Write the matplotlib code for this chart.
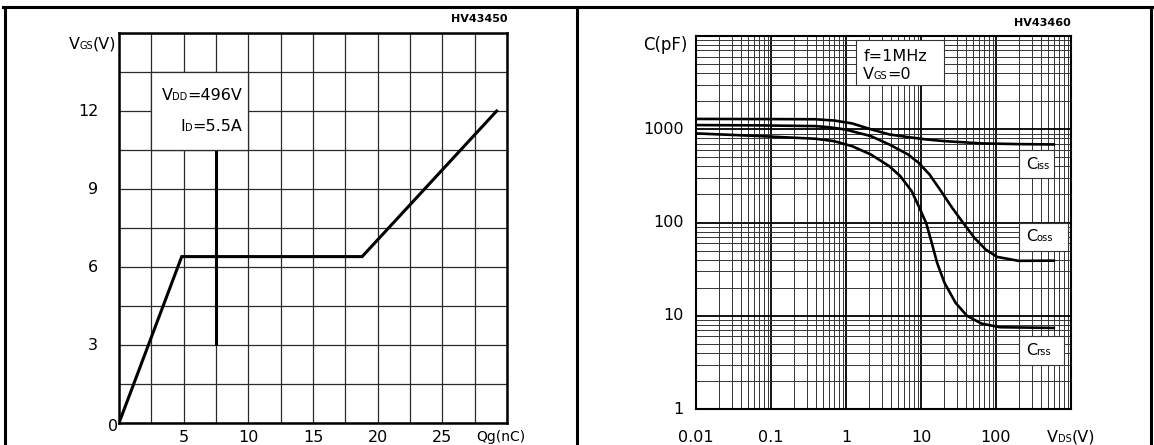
import matplotlib
matplotlib.use("Agg")
import matplotlib.pyplot as plt
from matplotlib.offsetbox import TextArea, HPacker, AnnotationBbox
from matplotlib.patches import Rectangle
from matplotlib.lines import Line2D
from matplotlib.ticker import MultipleLocator, LogLocator, NullFormatter

plt.rcParams['font.family'] = ['DejaVu Sans']

# ====== gate charge (left chart) ======
qg = [0, 4.85, 18.8, 29.2]
vgs = [0, 6.4, 6.4, 12.0]
qg_ticks = [5, 10, 15, 20, 25]
vgs_ticks = [3, 6, 9, 12]

# ====== capacitance vs VDS (right chart) ======
ciss_v = [0.01, 0.1, 0.39, 0.7, 1.2, 2.14, 3.77, 6.7, 11.7, 20.6, 64, 200, 590]
ciss = [1290, 1285, 1280, 1240, 1156, 1000, 880, 824, 778, 746, 705, 693, 687]
coss_v = [0.01, 0.071, 0.39, 0.6, 0.97, 2.14, 3.77, 6.7, 9.3, 13, 18.5, 26, 36.5, 51.5, 73, 103, 200, 590]
coss = [1109, 1100, 1081, 1050, 995, 845, 687, 537, 437, 327, 217, 144, 99, 68.4, 51.3, 42.8, 38.8, 39]
crss_v = [0.01, 0.071, 0.39, 0.69, 1.2, 2.14, 3.77, 5.3, 7.5, 9.3, 11.7, 13.9, 16.4, 20.6, 29, 41, 64, 113, 590]
crss = [902, 845, 791, 746, 659, 537, 402, 314, 217, 150, 99, 60.5, 36.9, 22.5, 13.7, 10.0, 8.24, 7.53, 7.4]
vds_ticks = [0.01, 0.1, 1, 10, 100]
c_ticks = [1, 10, 100, 1000]

FS = 11.5


def rich(ax, xy, parts, coords='data', align=(0.5, 0.5), size=FS, offset=(0, 0)):
    # text with small "subscript" letters sitting on the baseline
    areas = [TextArea(s, textprops=dict(fontsize=size * (0.62 if small else 1.0), color='black'))
             for s, small in parts]
    pack = HPacker(children=areas, align='baseline', pad=0, sep=-0.3)
    ab = AnnotationBbox(pack, xy, xycoords=coords, xybox=offset, boxcoords='offset points',
                        frameon=False, box_alignment=align, pad=0, annotation_clip=False, zorder=5)
    ax.add_artist(ab)


fig = plt.figure(figsize=(11.54, 4.45), dpi=100)

# outer frame of the datasheet page
for (x0, x1, y0, y1) in [(0.003, 0.998, 0.984, 0.984), (0.0045, 0.0045, 0.0, 0.984),
                         (0.5, 0.5, 0.0, 0.984), (0.9975, 0.9975, 0.0, 0.984)]:
    fig.add_artist(Line2D([x0, x1], [y0, y1], color='black', lw=2.2))

# ---------------- left chart ----------------
ax1 = fig.add_axes([119 / 1154, 1 - 423 / 445, 388 / 1154, 390 / 445])
ax1.set_xlim(0, 30)
ax1.set_ylim(0, 15)
ax1.xaxis.set_major_locator(MultipleLocator(2.5))
ax1.yaxis.set_major_locator(MultipleLocator(1.5))
ax1.grid(True, color='#2a2a2a', lw=0.9)
ax1.set_axisbelow(True)
ax1.tick_params(length=0, labelbottom=False, labelleft=False)
for s in ax1.spines.values():
    s.set_linewidth(1.8)

ax1.vlines(7.5, 3, 10.5, color='black', lw=2.2, zorder=1)
ax1.add_patch(Rectangle((2.5, 10.5), 7.5, 3, fc='white', ec='#2a2a2a', lw=0.9, zorder=1.5))
ax1.plot(qg, vgs, color='black', lw=2.2, zorder=3, solid_joinstyle='miter')

for t in vgs_ticks:
    ax1.text(-1.6, t, str(t), ha='right', va='center', fontsize=FS)
ax1.text(-0.45, -0.15, '0', ha='center', va='center', fontsize=FS)
for t in qg_ticks:
    ax1.text(t, -0.55, str(t), ha='center', va='center', fontsize=FS)
ax1.text(29.5, -0.55, 'Qg(nC)', ha='center', va='center', fontsize=FS - 1.5)

rich(ax1, (0, 1), [('V', False), ('GS', True), ('(V)', False)], coords='axes fraction',
     align=(1, 0.5), offset=(-2, -8))
rich(ax1, (9.5, 12.6), [('V', False), ('DD', True), ('=496V', False)], align=(1, 0.5))
rich(ax1, (9.5, 11.4), [('I', False), ('D', True), ('=5.5A', False)], align=(1, 0.5))
ax1.text(1, 1.022, 'HV43450', transform=ax1.transAxes, ha='right', va='bottom',
         fontsize=8, fontweight='bold')

# ---------------- right chart ----------------
ax2 = fig.add_axes([696 / 1154, 1 - 409 / 445, 375 / 1154, 373 / 445])
ax2.set_xscale('log')
ax2.set_yscale('log')
ax2.set_xlim(0.01, 1000)
ax2.set_ylim(1, 10000)
ax2.xaxis.set_minor_locator(LogLocator(base=10, subs=range(2, 10), numticks=20))
ax2.yaxis.set_minor_locator(LogLocator(base=10, subs=range(2, 10), numticks=20))
ax2.xaxis.set_minor_formatter(NullFormatter())
ax2.yaxis.set_minor_formatter(NullFormatter())
ax2.grid(True, which='major', color='black', lw=1.3)
ax2.grid(True, which='minor', color='#333333', lw=0.7)
ax2.set_axisbelow(True)
ax2.tick_params(which='both', length=0, labelbottom=False, labelleft=False)
for s in ax2.spines.values():
    s.set_linewidth(1.5)

ax2.plot(ciss_v, ciss, color='black', lw=1.9, zorder=3)
ax2.plot(coss_v, coss, color='black', lw=1.9, zorder=3)
ax2.plot(crss_v, crss, color='black', lw=1.9, zorder=3)

# label boxes
for (x0, x1, y0, y1) in [(1.35, 20, 3000, 9000), (200, 600, 300, 600),
                         (200, 900, 50, 100), (200, 800, 3, 6)]:
    ax2.add_patch(Rectangle((x0, y0), x1 - x0, y1 - y0, fc='white', ec='#333333', lw=0.8, zorder=1.5))

ax2.text(1.7, 6100, 'f=1MHz', ha='left', va='center', fontsize=FS, zorder=5)
rich(ax2, (1.7, 3900), [('V', False), ('GS', True), ('=0', False)], align=(0, 0.5))
rich(ax2, (250, 420), [('C', False), ('iss', True)], align=(0, 0.5))
rich(ax2, (250, 71), [('C', False), ('oss', True)], align=(0, 0.5))
rich(ax2, (250, 4.2), [('C', False), ('rss', True)], align=(0, 0.5))

for t in c_ticks:
    ax2.text(0.0068, t, str(t), ha='right', va='center', fontsize=FS)
for t in vds_ticks:
    ax2.text(t, 0.5, '%g' % t, ha='center', va='center', fontsize=FS)
rich(ax2, (1000, 0.5), [('V', False), ('DS', True), ('(V)', False)], align=(0.5, 0.5))
ax2.text(0.0078, 10000, 'C(pF)', ha='right', va='top', fontsize=FS + 0.5)
ax2.text(1, 1.022, 'HV43460', transform=ax2.transAxes, ha='right', va='bottom',
         fontsize=8, fontweight='bold')

fig.savefig('out.png', dpi=100)
